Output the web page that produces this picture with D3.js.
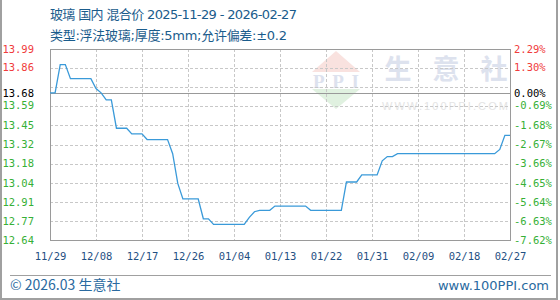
<!DOCTYPE html>
<html><head><meta charset="utf-8">
<script src="https://cdn.jsdelivr.net/npm/d3@7"></script>
<style>body{margin:0;background:#fff} svg{display:block}</style>
</head><body><svg id="c" width="560" height="300"></svg>
<script>
// ---- data ----
const titleText = "玻璃 国内 混合价 2025-11-29 - 2026-02-27";
const subtitleText = "类型:浮法玻璃;厚度:5mm;允许偏差:±0.2";
const startDate = "2025-11-29";
const endDate = "2026-02-27";
const prices = [
  13.68, 13.68, 13.88, 13.88, 13.78, 13.78, 13.78, 13.78, 13.78, 13.71,
  13.68, 13.63, 13.63, 13.43, 13.43, 13.43, 13.39, 13.39, 13.39, 13.35,
  13.35, 13.35, 13.35, 13.35, 13.25, 13.04, 12.93, 12.93, 12.93, 12.93,
  12.79, 12.79, 12.75, 12.75, 12.75, 12.75, 12.75, 12.75, 12.75, 12.80,
  12.84, 12.85, 12.85, 12.85, 12.88, 12.88, 12.88, 12.88, 12.88, 12.88,
  12.88, 12.85, 12.85, 12.85, 12.85, 12.85, 12.85, 12.85, 13.05, 13.05,
  13.05, 13.10, 13.10, 13.10, 13.10, 13.20, 13.23, 13.23, 13.25, 13.25,
  13.25, 13.25, 13.25, 13.25, 13.25, 13.25, 13.25, 13.25, 13.25, 13.25,
  13.25, 13.25, 13.25, 13.25, 13.25, 13.25, 13.25, 13.25, 13.28, 13.38,
  13.38
];
const baseValue = 13.68;
const baseLabel = "13.68";
const basePctLabel = "0.00%";
const yMin = 12.64, yMax = 13.99;
const gridValues = [12.64, 12.775, 12.91, 13.045, 13.18, 13.315, 13.45, 13.585, 13.72, 13.855, 13.99];
const priceTicks = [13.99, 13.86, 13.59, 13.45, 13.32, 13.18, 13.04, 12.91, 12.77, 12.64];
const pctTicks = ["2.29%", "1.30%", "-0.69%", "-1.68%", "-2.67%", "-3.66%", "-4.65%", "-5.64%", "-6.63%", "-7.62%"];
const xTickLabels = ["11/29","12/08","12/17","12/26","01/04","01/13","01/22","01/31","02/09","02/18","02/27"];
const footerLeft = "© 2026.03 生意社";
const footerRight = "www.100PPI.com";

// ---- drawing ----
const svg = d3.select("#c");
const L = 50, R = 510, T = 49, B = 240;
const parse = d3.timeParse("%Y-%m-%d");
const d0 = parse(startDate), d1 = parse(endDate);
const data = prices.map((v, i) => ({date: d3.timeDay.offset(d0, i), v}));
const x = d3.scaleTime().domain([d0, d1]).range([L, R]);
const y = d3.scaleLinear().domain([yMin, yMax]).range([B, T]);
const mono = "'DejaVu Sans Mono', monospace";
const cjk = "'Noto Sans CJK SC', 'DejaVu Sans', sans-serif";
const mixed = "'DejaVu Sans', 'Noto Sans CJK SC', sans-serif";

// outer frame
svg.append("path").attr("d", "M1,0 V299 H557 V0").attr("fill", "none").attr("stroke", "#a0a0a0").attr("stroke-width", 2);

// titles
svg.append("text").attr("x", 50).attr("y", 19).attr("font-family", mixed).attr("font-size", 13).attr("fill", "#1a5c8c").attr("textLength", 247).text(titleText);
svg.append("text").attr("x", 50).attr("y", 40).attr("font-family", mixed).attr("font-size", 13).attr("fill", "#1a5c8c").attr("textLength", 237).text(subtitleText);

// watermark
const wm = svg.append("g");
wm.append("path").attr("d", "M336,51 L312,72 L360,72 Z").attr("fill", "#f9e2df");
wm.append("path").attr("d", "M312,89 L360,89 L336,109 Z").attr("fill", "#e0f1e0");
wm.append("text").attr("x", 336).attr("y", 88).attr("text-anchor", "middle").attr("font-family", "'Liberation Serif', serif").attr("font-weight", "bold").attr("font-size", 19).attr("fill", "#dde2ee").attr("textLength", 46).text("PPI");
["生","意","社"].forEach((c, i) => {
  wm.append("text").attr("x", 398 + i * 48).attr("y", 79).attr("text-anchor", "middle").attr("font-family", cjk).attr("font-weight", "bold").attr("font-size", 27).attr("fill", "#dde2ee").text(c);
});
wm.append("text").attr("x", 382).attr("y", 110).attr("font-family", "'Liberation Sans', sans-serif").attr("font-size", 11).attr("fill", "#e4e4e4").attr("textLength", 126).text("WWW.100PPI.COM");

// grid
const grid = svg.append("g").attr("stroke", "#c8c8c8").attr("stroke-dasharray", "3,2").attr("shape-rendering", "crispEdges");
grid.selectAll("line.h").data(gridValues).join("line").attr("class", "h")
  .attr("x1", L).attr("x2", R).attr("y1", d => Math.round(y(d)) + 0.5).attr("y2", d => Math.round(y(d)) + 0.5);
const xTickDates = xTickLabels.map((s, i) => d3.timeDay.offset(d0, Math.round(i * (d3.timeDay.count(d0, d1) / (xTickLabels.length - 1)))));
grid.selectAll("line.v").data(xTickDates).join("line").attr("class", "v")
  .attr("y1", T).attr("y2", B).attr("x1", d => Math.round(x(d)) + 0.5).attr("x2", d => Math.round(x(d)) + 0.5);

// baseline
svg.append("line").attr("x1", L).attr("x2", R).attr("y1", Math.round(y(baseValue)) + 0.5).attr("y2", Math.round(y(baseValue)) + 0.5)
  .attr("stroke", "#999").attr("shape-rendering", "crispEdges");

// border
svg.append("rect").attr("x", L + 0.5).attr("y", T + 0.5).attr("width", R - L).attr("height", B - T).attr("fill", "none").attr("stroke", "#9a9a9a").attr("shape-rendering", "crispEdges");

// line
svg.append("path").datum(data).attr("fill", "none").attr("stroke", "#3a9ad9").attr("stroke-width", 1.3)
  .attr("d", d3.line().x(d => x(d.date)).y(d => y(d.v)));

// left axis
const colorFor = v => v > baseValue ? "#f03c3c" : (v < baseValue ? "#36b036" : "#000");
const la = svg.append("g").attr("transform", `translate(${L},0)`)
  .call(d3.axisLeft(y).tickValues(priceTicks.concat([baseValue])).tickSize(0).tickPadding(16)
    .tickFormat((d, i) => i < priceTicks.length ? d.toFixed(2) : baseLabel));
la.select(".domain").remove();
la.selectAll("text").attr("font-family", mono).attr("font-size", 10.5).attr("fill", d => colorFor(d));

// right axis
const allPct = pctTicks.concat([basePctLabel]);
const ra = svg.append("g").attr("transform", `translate(${R},0)`)
  .call(d3.axisRight(y).tickValues(priceTicks.concat([baseValue])).tickSize(0).tickPadding(4)
    .tickFormat((d, i) => allPct[i]));
ra.select(".domain").remove();
ra.selectAll("text").attr("font-family", mono).attr("font-size", 10.5).attr("fill", d => colorFor(d));

// bottom axis
const ba = svg.append("g").attr("transform", `translate(0,${B})`)
  .call(d3.axisBottom(x).tickValues(xTickDates).tickSize(0).tickPadding(13).tickFormat((d, i) => xTickLabels[i]));
ba.select(".domain").remove();
ba.selectAll("text").attr("font-family", mono).attr("font-size", 10.5).attr("fill", "#1f4f82");

// footer
svg.append("line").attr("x1", 10).attr("x2", 551).attr("y1", 275.5).attr("y2", 275.5).attr("stroke", "#a0a0a0");
svg.append("text").attr("x", 10).attr("y", 290).attr("font-family", cjk).attr("font-size", 14).attr("fill", "#2a6aa0").text(footerLeft);
svg.append("text").attr("x", 549).attr("y", 290).attr("text-anchor", "end").attr("font-family", "'DejaVu Sans', sans-serif").attr("font-size", 13).attr("fill", "#2a6aa0").text(footerRight);
</script></body></html>
